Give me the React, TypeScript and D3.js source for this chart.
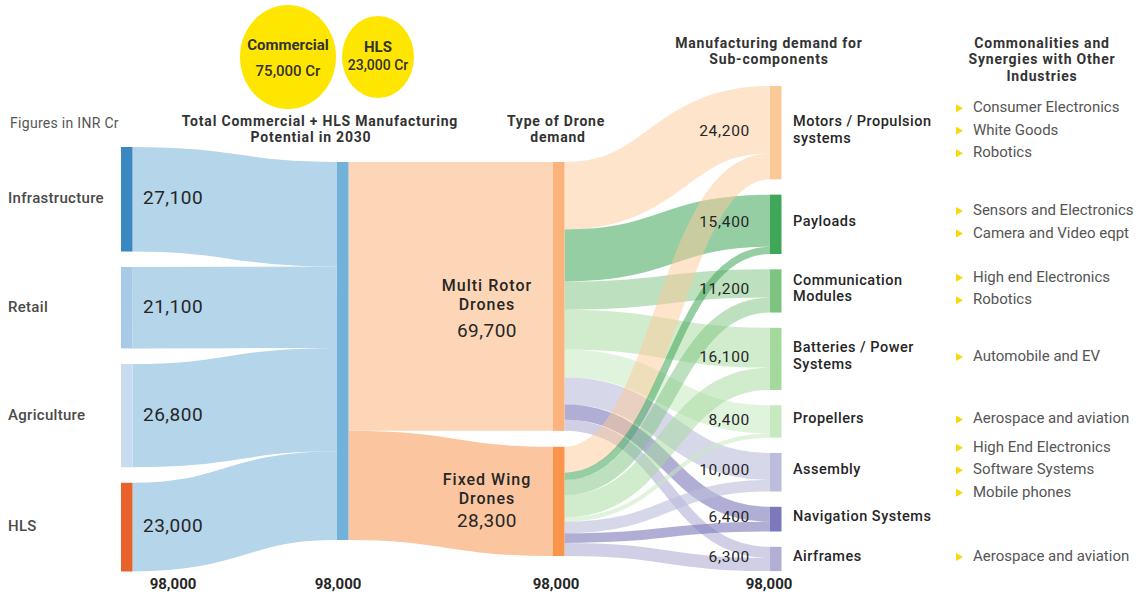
import React from "react";
import * as d3 from "d3";

// ---- Data (INR Cr) ----
const sources = ["Infrastructure", "Retail", "Agriculture", "HLS"];
const sourceValues = [27100, 21100, 26800, 23000];

const droneTypes = [["Multi Rotor", "Drones"], ["Fixed Wing", "Drones"]];
const droneTypeValues = [69700, 28300];

const components = [
  ["Motors / Propulsion", "systems"],
  ["Payloads"],
  ["Communication", "Modules"],
  ["Batteries / Power", "Systems"],
  ["Propellers"],
  ["Assembly"],
  ["Navigation Systems"],
  ["Airframes"],
];
const componentValues = [24200, 15400, 11200, 16100, 8400, 10000, 6400, 6300];

// split of each sub-component between the two drone types
const multiRotorToComponent = [17500, 13500, 7300, 10300, 7300, 7000, 3900, 2900];
const fixedWingToComponent = [6700, 1900, 3900, 5800, 1100, 3000, 2500, 3400];

const industries = [
  ["Consumer Electronics", "White Goods", "Robotics"],
  ["Sensors  and Electronics", "Camera and Video eqpt"],
  ["High end Electronics", "Robotics"],
  ["Automobile and EV"],
  ["Aerospace and aviation"],
  ["High End Electronics", "Software Systems", "Mobile phones"],
  [],
  ["Aerospace and aviation"],
];

const segmentNames = ["Commercial", "HLS"];
const segmentValues = [75000, 23000];

// ---- Styles ----
const FONT = "Roboto, 'Noto Sans', Arial, sans-serif";
const sourceBarColors = ["#3a87c2", "#a7cbe6", "#c9dcef", "#e8622b"];
const sourceLinkColor = "#b5d5ea";
const totalBarColor = "#72b1da";
const droneBarColors = ["#fbb27c", "#f9944a"];
const droneLinkColors = ["#fdd6b7", "#fbc59f"];
const componentColors = ["#fbc998", "#3fa65a", "#7cc47f", "#a3d99c", "#c7e9c0", "#bcbcdc", "#7d78bb", "#b2afd5"];
const componentLinkOpacity = [0.5, 0.55, 0.5, 0.5, 0.55, 0.6, 0.6, 0.6];

// ---- Layout ----
const W = 1146;
const H = 597;
const colX = [121, 337, 553, 770];
const nodeW = 11.5;
const totalValue = d3.sum(sourceValues);
const k = d3.scaleLinear().domain([0, totalValue]).range([0, 378]);

function stack(values: number[], top: number, gap: number) {
  const out: { y0: number; y1: number }[] = [];
  let y = top;
  values.forEach((v) => {
    const h = k(v);
    out.push({ y0: y, y1: y + h });
    y += h + gap;
  });
  return out;
}

const srcNodes = stack(sourceValues, 147, 15.5);
const totNode = stack([totalValue], 162, 0)[0];
const droneNodes = stack(droneTypeValues, 162, 16);
const compNodes = stack(componentValues, 86, 15.3);

const link = d3.linkHorizontal<any, [number, number]>()
  .source((d: any) => d.s)
  .target((d: any) => d.t);

type L = { s: [number, number]; t: [number, number]; w: number; color: string; opacity: number };

function buildLinks() {
  const links: L[] = [];
  // sources -> total
  let tOff = totNode.y0;
  sourceValues.forEach((v, i) => {
    const w = k(v);
    const n = srcNodes[i];
    links.push({
      s: [colX[0] + nodeW, n.y0 + w / 2],
      t: [colX[1], tOff + w / 2],
      w,
      color: sourceLinkColor,
      opacity: 1,
    });
    tOff += w;
  });
  // total -> drone types
  let sOff = totNode.y0;
  droneTypeValues.forEach((v, j) => {
    const w = k(v);
    links.push({
      s: [colX[1] + nodeW, sOff + w / 2],
      t: [colX[2], droneNodes[j].y0 + w / 2],
      w,
      color: droneLinkColors[j],
      opacity: 1,
    });
    sOff += w;
  });
  // drone types -> sub-components
  const matrix = [multiRotorToComponent, fixedWingToComponent];
  const targetOffsets = compNodes.map((n) => n.y0);
  matrix.forEach((row, j) => {
    let off = droneNodes[j].y0;
    row.forEach((v, c) => {
      const w = k(v);
      links.push({
        s: [colX[2] + nodeW, off + w / 2],
        t: [colX[3], targetOffsets[c] + w / 2],
        w,
        color: componentColors[c],
        opacity: componentLinkOpacity[c],
      });
      off += w;
      targetOffsets[c] += w;
    });
  });
  return links;
}

const fmt = d3.format(",");
const mid = (n: { y0: number; y1: number }) => (n.y0 + n.y1) / 2;

export default function App() {
  const links = buildLinks();
  const droneLabelOffsets = [
    [-10, 9, 36],
    [-21, -2, 21],
  ];
  const totalLabelX = [173, 338, 556, 769];
  const columnTotals = [
    d3.sum(sourceValues),
    totalValue,
    d3.sum(droneTypeValues),
    d3.sum(componentValues),
  ];
  const textDark = "#262626";
  const headLine = 16.5;

  return (
    <svg
      width={W}
      height={H}
      viewBox={`0 0 ${W} ${H}`}
      style={{ position: "absolute", left: 0, top: 0, background: "#fff", fontFamily: FONT }}
    >
      <rect width={W} height={H} fill="#fff" />

      {/* Commercial / HLS bubbles */}
      <ellipse cx={288} cy={57} rx={48} ry={52} fill="#ffe600" />
      <ellipse cx={378} cy={57} rx={36} ry={41} fill="#ffe600" />
      <text x={288} y={46} textAnchor="middle" dominantBaseline="middle" fontSize={15} fontWeight={700} fill="#333">
        {segmentNames[0]}
      </text>
      <text x={288} y={72} textAnchor="middle" dominantBaseline="middle" fontSize={15} fontWeight={500} fill="#333">
        {fmt(segmentValues[0])} Cr
      </text>
      <text x={378} y={48} textAnchor="middle" dominantBaseline="middle" fontSize={15} fontWeight={700} fill="#333">
        {segmentNames[1]}
      </text>
      <text x={378} y={66} textAnchor="middle" dominantBaseline="middle" fontSize={14} fontWeight={500} fill="#333">
        {fmt(segmentValues[1])} Cr
      </text>

      {/* headers */}
      <text x={10} y={124} dominantBaseline="middle" fontSize={14} fill="#555" letterSpacing={0.3}>
        Figures in INR Cr
      </text>
      <g fontSize={14} fontWeight={700} fill="#333" textAnchor="middle" letterSpacing={0.8}>
        <text x={320} y={122} dominantBaseline="middle">Total Commercial + HLS Manufacturing</text>
        <text x={311} y={122 + headLine} dominantBaseline="middle">Potential in 2030</text>
        <text x={556} y={122} dominantBaseline="middle">Type of Drone</text>
        <text x={558} y={122 + headLine} dominantBaseline="middle">demand</text>
        <text x={769} y={44} dominantBaseline="middle">Manufacturing demand for</text>
        <text x={769} y={44 + headLine} dominantBaseline="middle">Sub-components</text>
        <text x={1042} y={44} dominantBaseline="middle">Commonalities and</text>
        <text x={1042} y={44 + headLine} dominantBaseline="middle">Synergies with Other</text>
        <text x={1042} y={44 + 2 * headLine} dominantBaseline="middle">Industries</text>
      </g>

      {/* links */}
      <g fill="none">
        {links.map((l, i) => (
          <path
            key={i}
            d={link(l as any) || ""}
            stroke={l.color}
            strokeOpacity={l.opacity}
            strokeWidth={l.w}
          />
        ))}
      </g>

      {/* nodes */}
      {srcNodes.map((n, i) => (
        <rect key={"s" + i} x={colX[0]} y={n.y0} width={nodeW} height={n.y1 - n.y0} fill={sourceBarColors[i]} />
      ))}
      <rect x={colX[1]} y={totNode.y0} width={nodeW} height={totNode.y1 - totNode.y0} fill={totalBarColor} />
      {droneNodes.map((n, i) => (
        <rect key={"d" + i} x={colX[2]} y={n.y0} width={nodeW} height={n.y1 - n.y0} fill={droneBarColors[i]} />
      ))}
      {compNodes.map((n, i) => (
        <rect key={"c" + i} x={colX[3]} y={n.y0} width={nodeW} height={n.y1 - n.y0} fill={componentColors[i]} />
      ))}

      {/* source labels and values */}
      {srcNodes.map((n, i) => (
        <g key={"sl" + i}>
          <text x={8} y={mid(n)} dominantBaseline="middle" fontSize={15} fontWeight={500} fill="#4a4a4a" letterSpacing={0.3}>
            {sources[i]}
          </text>
          <text x={143} y={mid(n)} dominantBaseline="middle" fontSize={19} fill={textDark} letterSpacing={0.5}>
            {fmt(sourceValues[i])}
          </text>
        </g>
      ))}

      {/* drone type labels */}
      {droneNodes.map((n, i) => (
        <g key={"dl" + i} textAnchor="middle" fill={textDark}>
          <text x={487} y={mid(n) + droneLabelOffsets[i][0]} dominantBaseline="middle" fontSize={16} fontWeight={500} letterSpacing={1}>
            {droneTypes[i][0]}
          </text>
          <text x={487} y={mid(n) + droneLabelOffsets[i][1]} dominantBaseline="middle" fontSize={16} fontWeight={500} letterSpacing={1}>
            {droneTypes[i][1]}
          </text>
          <text x={487} y={mid(n) + droneLabelOffsets[i][2]} dominantBaseline="middle" fontSize={19} letterSpacing={0.5}>
            {fmt(droneTypeValues[i])}
          </text>
        </g>
      ))}

      {/* sub-component values, names and related industries */}
      {compNodes.map((n, i) => {
        const cy = mid(n);
        const lines = components[i];
        const inds = industries[i];
        return (
          <g key={"cl" + i}>
            <text x={750} y={cy - 1} textAnchor="end" dominantBaseline="middle" fontSize={15.5} fill={textDark} letterSpacing={0.7}>
              {fmt(componentValues[i])}
            </text>
            {lines.map((t, j) => (
              <text
                key={j}
                x={793}
                y={cy - 2 + (j - (lines.length - 1) / 2) * 16.5}
                dominantBaseline="middle"
                fontSize={14.5}
                fontWeight={500}
                fill={textDark}
                letterSpacing={0.5}
              >
                {t}
              </text>
            ))}
            {inds.map((t, j) => {
              const y = cy - 2 + (j - (inds.length - 1) / 2) * 22.5;
              return (
                <g key={"in" + j}>
                  <path d={`M${956},${y - 4} L${963},${y} L${956},${y + 4} Z`} fill="#f5d90a" />
                  <text x={973} y={y} dominantBaseline="middle" fontSize={15} fill="#555">
                    {t}
                  </text>
                </g>
              );
            })}
          </g>
        );
      })}

      {/* column totals */}
      {columnTotals.map((v, i) => (
        <text
          key={"t" + i}
          x={totalLabelX[i]}
          y={585}
          textAnchor="middle"
          dominantBaseline="middle"
          fontSize={15}
          fontWeight={700}
          fill={textDark}
        >
          {fmt(v)}
        </text>
      ))}
    </svg>
  );
}
